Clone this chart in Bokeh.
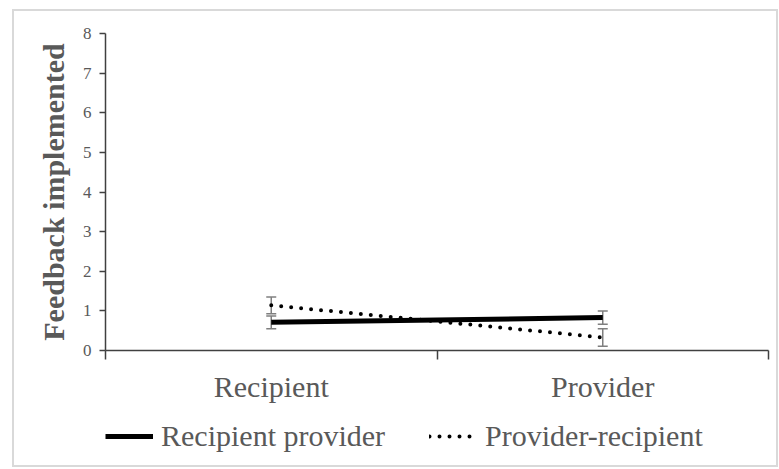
from bokeh.plotting import figure
from bokeh.layouts import column
from bokeh.models import (Range1d, FixedTicker, Legend, LegendItem, Whisker,
                          TeeHead, ColumnDataSource)
from bokeh.embed import file_html
from bokeh.resources import INLINE

categories = ["Recipient", "Provider"]
recipient_provider = [0.71, 0.83]
recipient_provider_err = [0.16, 0.17]
provider_recipient = [1.14, 0.33]
provider_recipient_err = [0.21, 0.22]
y_ticks = [0, 1, 2, 3, 4, 5, 6, 7, 8]
series_names = ["Recipient provider", "Provider-recipient"]

FONT = "Liberation Serif"
GRAY = "#595959"

xpos = [i + 0.5 for i in range(len(categories))]
bounds = [float(i) for i in range(len(categories) + 1)]

p = figure(width=762, height=400, output_backend="svg", toolbar_location=None,
           x_range=Range1d(0, len(categories)), y_range=Range1d(0, 8),
           min_border_left=91, min_border_top=22, min_border_right=8,
           min_border_bottom=61)
p.background_fill_color = "white"
p.outline_line_color = None
p.grid.grid_line_color = None

# x axis
p.xaxis.ticker = FixedTicker(ticks=xpos, minor_ticks=bounds)
p.xaxis.major_label_overrides = {x: c for x, c in zip(xpos, categories)}
p.xaxis.major_tick_line_color = None
p.xaxis.minor_tick_out = 9
p.xaxis.minor_tick_in = 0
p.xaxis.minor_tick_line_color = "#404040"
p.xaxis.minor_tick_line_width = 1.5
p.xaxis.axis_line_color = "#404040"
p.xaxis.axis_line_width = 1.5
p.xaxis.major_label_text_font = FONT
p.xaxis.major_label_text_font_size = "30px"
p.xaxis.major_label_text_color = GRAY
p.xaxis.major_label_standoff = 10

# y axis
p.yaxis.ticker = FixedTicker(ticks=y_ticks)
p.yaxis.minor_tick_line_color = None
p.yaxis.major_tick_out = 6
p.yaxis.major_tick_in = 0
p.yaxis.major_tick_line_color = "#404040"
p.yaxis.major_tick_line_width = 1.5
p.yaxis.axis_line_color = "#404040"
p.yaxis.axis_line_width = 1.5
p.yaxis.major_label_text_font = FONT
p.yaxis.major_label_text_font_size = "17px"
p.yaxis.major_label_text_color = GRAY
p.yaxis.major_label_standoff = 8
p.yaxis.axis_label = "Feedback implemented"
p.yaxis.axis_label_text_font = FONT
p.yaxis.axis_label_text_font_style = "bold"
p.yaxis.axis_label_text_font_size = "30px"
p.yaxis.axis_label_text_color = GRAY
p.yaxis.axis_label_standoff = 10

src_a = ColumnDataSource(dict(
    x=xpos, y=recipient_provider,
    up=[v + e for v, e in zip(recipient_provider, recipient_provider_err)],
    lo=[v - e for v, e in zip(recipient_provider, recipient_provider_err)]))
src_b = ColumnDataSource(dict(
    x=xpos, y=provider_recipient,
    up=[v + e for v, e in zip(provider_recipient, provider_recipient_err)],
    lo=[v - e for v, e in zip(provider_recipient, provider_recipient_err)]))

for src in (src_a, src_b):
    w = Whisker(source=src, base="x", upper="up", lower="lo",
                line_color="#7f7f7f", line_width=1.5, level="underlay",
                upper_head=TeeHead(size=10, line_color="#7f7f7f", line_width=1.5),
                lower_head=TeeHead(size=10, line_color="#7f7f7f", line_width=1.5))
    p.add_layout(w)

solid_style = dict(line_color="black", line_width=5)
dot_style = dict(line_color="black", line_width=4, line_dash="0 10", line_cap="round")

p.line("x", "y", source=src_a, **solid_style)
p.line("x", "y", source=src_b, **dot_style)

# legend strip below the chart (its frame is aligned with the chart's frame);
# its view range is placed away from the data so only the legend shows
pl = figure(width=762, height=54, output_backend="svg", toolbar_location=None,
            x_axis_type=None, y_axis_type=None,
            x_range=Range1d(0, len(categories)), y_range=Range1d(100, 101),
            min_border_left=0, min_border_right=0, min_border_top=0,
            min_border_bottom=0)
pl.outline_line_color = None
pl.grid.grid_line_color = None
la = pl.line("x", "y", source=src_a, **solid_style)
lb = pl.line("x", "y", source=src_b, **dot_style)

legend = Legend(items=[LegendItem(label=series_names[0], renderers=[la]),
                       LegendItem(label=series_names[1], renderers=[lb])],
                orientation="horizontal", location=(0, 12))
legend.label_text_font = FONT
legend.label_text_font_size = "30px"
legend.label_text_color = GRAY
legend.glyph_width = 48
legend.glyph_height = 30
legend.label_height = 30
legend.label_standoff = 8
legend.spacing = 44
legend.padding = 0
legend.margin = 0
legend.border_line_color = None
legend.background_fill_alpha = 0
pl.add_layout(legend)

layout = column(p, pl, spacing=0)
layout.styles = {"border": "2px solid #d9d9d9"}
layout.margin = (9, 0, 0, 12)

open("out.html", "w").write(file_html(layout, INLINE))
